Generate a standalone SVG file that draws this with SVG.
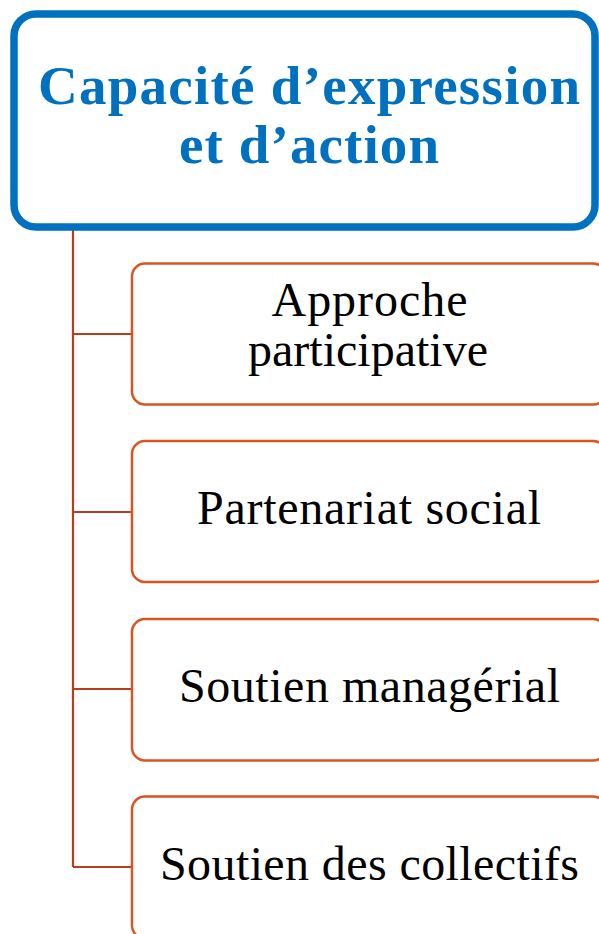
<svg xmlns="http://www.w3.org/2000/svg" width="599" height="934" viewBox="0 0 599 934">
<style>
.root{fill:#fff;stroke:#0070C0;stroke-width:7.5}
.child{fill:#fff;stroke:#DC5320;stroke-width:2.5}
.conn{fill:none;stroke:#B83E19;stroke-width:2.2}
.t1{font-family:"Liberation Serif","Times New Roman",serif;font-weight:bold;font-size:55px;fill:#0070C0;text-anchor:middle}
.t2{font-family:"Liberation Serif","Times New Roman",serif;font-size:48px;fill:#000;text-anchor:middle}
</style>
<rect width="599" height="934" fill="#fff"/>
<g id="connectors">
<path class="conn" d="M73 227 V867 M73 334 H132 M73 512 H132 M73 689 H132 M73 867 H132"/>
</g>
<g id="root">
<rect class="root" x="14" y="14" width="581" height="213" rx="22"/>
<text class="t1" x="309" y="104" textLength="542" lengthAdjust="spacing">Capacité d’expression</text>
<text class="t1" x="309" y="163" textLength="260" lengthAdjust="spacing">et d’action</text>
</g>
<g id="n1">
<rect class="child" x="132" y="263.5" width="474" height="141" rx="13"/>
<text class="t2" x="369.5" y="316" textLength="196" lengthAdjust="spacing">Approche</text>
<text class="t2" x="368" y="366" textLength="240" lengthAdjust="spacing">participative</text>
</g>
<g id="n2">
<rect class="child" x="132" y="441" width="474" height="141" rx="13"/>
<text class="t2" x="369" y="524" textLength="344" lengthAdjust="spacing">Partenariat social</text>
</g>
<g id="n3">
<rect class="child" x="132" y="619" width="474" height="141.5" rx="13"/>
<text class="t2" x="369.5" y="702" textLength="381" lengthAdjust="spacing">Soutien managérial</text>
</g>
<g id="n4">
<rect class="child" x="132" y="796.5" width="474" height="142" rx="13"/>
<text class="t2" x="369.5" y="879.5" textLength="419" lengthAdjust="spacing">Soutien des collectifs</text>
</g>
</svg>
